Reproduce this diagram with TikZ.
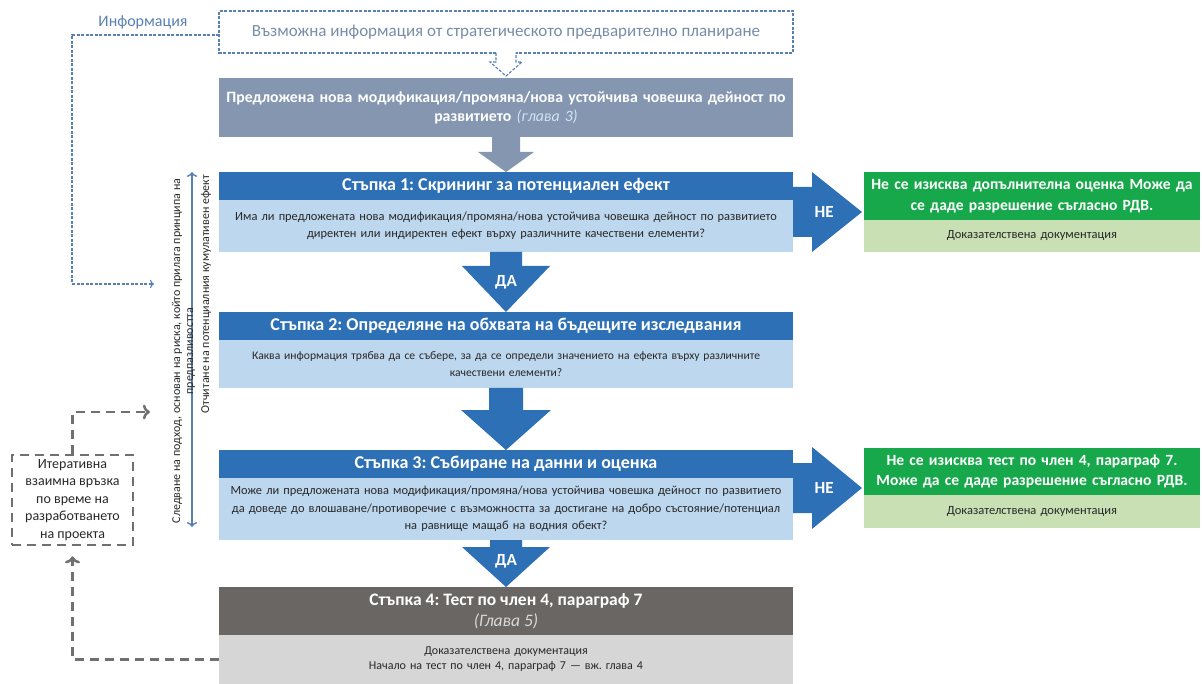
\documentclass[tikz,border=0pt]{standalone}
\usepackage{fontspec}
\setmainfont{Carlito}
\frenchspacing
\usetikzlibrary{arrows, arrows.meta, positioning, calc}

\definecolor{blueDark}{RGB}{46,112,182}
\definecolor{blueLight}{RGB}{189,215,238}
\definecolor{propGray}{RGB}{132,150,176}
\definecolor{greenDark}{RGB}{22,168,74}
\definecolor{greenLight}{RGB}{200,224,180}
\definecolor{stepGray}{RGB}{106,102,100}
\definecolor{docGray}{RGB}{214,214,214}
\definecolor{infoBlue}{RGB}{88,128,180}
\definecolor{planText}{RGB}{120,140,168}
\definecolor{dashGray}{RGB}{112,112,112}
\definecolor{textDark}{RGB}{40,40,40}

% block arrows (down / right), sizes in pt
\newcommand{\downblock}[6]{%
  \fill[#6] let \p1=(#1), \p2=(#2) in
    (\x1-#3pt,\y1) -- (\x1-#3pt,\y2+#5pt) -- (\x1-#4pt,\y2+#5pt) -- (\x1,\y2)
    -- (\x1+#4pt,\y2+#5pt) -- (\x1+#3pt,\y2+#5pt) -- (\x1+#3pt,\y1) -- cycle;}
\newcommand{\rightblock}[6]{%
  \fill[#6] let \p1=(#1), \p2=(#2) in
    (\x1,\y1+#3pt) -- (\x2-#5pt,\y1+#3pt) -- (\x2-#5pt,\y1+#4pt) -- (\x2,\y1)
    -- (\x2-#5pt,\y1-#4pt) -- (\x2-#5pt,\y1-#3pt) -- (\x1,\y1-#3pt) -- cycle;}

\tikzset{
  stephead/.style={fill=blueDark, text=white, font=\bfseries\fontsize{18}{21}\selectfont,
    minimum width=574pt, minimum height=28pt, inner sep=0pt, outer sep=0pt, align=center},
  stepbody/.style={fill=blueLight, text=textDark, font=\fontsize{12.4}{17}\selectfont,
    text width=574pt, inner xsep=0pt, inner ysep=0pt, outer sep=0pt, align=center},
  greenhead/.style={fill=greenDark, text=white, font=\bfseries\fontsize{15.6}{20.5}\selectfont,
    text width=336pt, inner xsep=0pt, inner ysep=0pt, outer sep=0pt, align=center},
  greenbody/.style={fill=greenLight, text=textDark, font=\fontsize{12.5}{14}\selectfont,
    text width=336pt, inner xsep=0pt, inner ysep=0pt, outer sep=0pt, align=center},
  arrowlbl/.style={text=white, font=\bfseries\fontsize{17}{18}\selectfont, inner sep=0pt},
  infodash/.style={draw=infoBlue, line width=1.1pt, dash pattern=on 3pt off 1.5pt},
  graydash/.style={draw=dashGray, line width=2.5pt, dash pattern=on 9pt off 6pt},
  sidetext/.style={text=textDark, font=\fontsize{12}{13}\selectfont, inner sep=0pt, align=center}
}

\begin{document}
\begin{tikzpicture}[x=1pt, y=-1pt]
  \useasboundingbox (0,0) rectangle (1202,684);

  % Информация от планирането
  \node[text=planText, font=\fontsize{17}{20}\selectfont, minimum width=574pt,
        minimum height=42pt, inner sep=0pt, outer sep=0pt] (plan) at (506,32)
        {Възможна информация от стратегическото предварително планиране};
  \draw[infodash] ([xshift=-10pt]plan.south) -| (plan.north west)
        -| (plan.south east) -- ([xshift=10pt]plan.south);
  \node[text=infoBlue, font=\fontsize{16}{18}\selectfont, inner sep=0pt] (info) at (143,22) {Информация};

  % Предложена дейност
  \node[fill=propGray, text=white, font=\bfseries\fontsize{15.8}{19}\selectfont,
        minimum width=574pt, minimum height=59pt, text width=574pt, inner xsep=0pt,
        inner ysep=0pt, outer sep=0pt, align=center] (prop) at (506,107.5)
        {Предложена нова модификация/промяна/нова устойчива човешка дейност по\\
         развитието {\mdseries\itshape\color{blueLight!70!white}(глава 3)}};
  \draw[infodash] ([xshift=-10pt]plan.south) -- ++(0,9) -- ++(-6,0) -- ([yshift=2pt]prop.north)
        -- ++(16,-14) -- ++(-6,0) -- ([xshift=10pt]plan.south);

  % Стъпки 1-4
  \node[stephead] (s1h) at (506,186) {Стъпка 1: Скрининг за потенциален ефект};
  \node[stepbody, minimum height=52pt, below=0pt of s1h] (s1b)
        {Има ли предложената нова модификация/промяна/нова устойчива човешка дейност по развитието\\
         директен или индиректен ефект върху различните качествени елементи?};
  \node[stephead] (s2h) at (506,326) {Стъпка 2: Определяне на обхвата на бъдещите изследвания};
  \node[stepbody, minimum height=48pt, font=\fontsize{11.6}{17}\selectfont, below=0pt of s2h] (s2b)
        {Каква информация трябва да се събере, за да се определи значението на ефекта върху различните\\
         качествени елементи?};
  \node[stephead] (s3h) at (506,464) {Стъпка 3: Събиране на данни и оценка};
  \node[stepbody, minimum height=62pt, font=\fontsize{12.4}{17.5}\selectfont, below=0pt of s3h] (s3b)
        {Може ли предложената нова модификация/промяна/нова устойчива човешка дейност по развитието\\
         да доведе до влошаване/противоречие с възможността за достигане на добро състояние/потенциал\\
         на равнище мащаб на водния обект?};
  \node[stephead, fill=stepGray, minimum height=48pt, font=\bfseries\fontsize{17.5}{21}\selectfont]
        (s4h) at (506,611) {Стъпка 4: Тест по член 4, параграф 7\\
        {\mdseries\itshape\color{white!85!black}(Глава 5)}};
  \node[stepbody, fill=docGray, minimum height=49pt, font=\fontsize{12}{15}\selectfont,
        below=0pt of s4h] (s4b)
        {Доказателствена документация\\Начало на тест по член 4, параграф 7 — вж. глава 4};

  % Зелени полета
  \node[greenhead, minimum height=48pt] (g1h) at (1032,196)
        {Не се изисква допълнителна оценка Може да\\се даде разрешение съгласно РДВ.};
  \node[greenbody, minimum height=32pt, below=0pt of g1h] (g1b) {Доказателствена документация};
  \node[greenhead, minimum height=47pt] (g2h) at (1032,471.5)
        {Не се изисква тест по член 4, параграф 7.\\Може да се даде разрешение съгласно РДВ.};
  \node[greenbody, minimum height=33pt, below=0pt of g2h] (g2b) {Доказателствена документация};

  % Стрелки надолу
  \downblock{prop.south}{s1h.north}{14}{28}{20}{propGray}
  \downblock{s1b.south}{s2h.north}{16}{44}{46}{blueDark}
  \downblock{s2b.south}{s3h.north}{17}{45}{40}{blueDark}
  \downblock{s3b.south}{s4h.north}{16}{44}{40}{blueDark}
  \node[arrowlbl] (da1) at ($(s1b.south)!0.5!(s2h.north)$) {ДА};
  \node[arrowlbl] (da2) at ($(s3b.south)!0.45!(s4h.north)$) {ДА};

  % Стрелки НЕ
  \coordinate (s1e) at ($(s1h.north east)!0.5!(s1b.south east)$);
  \coordinate (g1w) at ($(g1h.north west)!0.5!(g1b.south west)+(-2,0)$);
  \coordinate (g2w) at ($(g2h.north west)!0.5!(g2b.south west)+(-2,0)$);
  \coordinate (s3e) at (s3h.east |- g2w);
  \rightblock{s1e}{g1w}{25}{40}{50}{blueDark}
  \rightblock{s3e}{g2w}{25}{41}{50}{blueDark}
  \node[arrowlbl] (ne1) at ($(s1e)!0.45!(g1w)$) {НЕ};
  \node[arrowlbl] (ne2) at ($(s3e)!0.45!(g2w)$) {НЕ};

  % Връзка с информацията
  \coordinate (infoCorner) at (72,284);
  \coordinate (infoEnd) at (154,284);
  \draw[infodash, ->] ([yshift=-3pt]plan.west) -| (infoCorner) -- (infoEnd);

  % Вертикална стрелка и текстове
  \coordinate (vTop) at (192,172);
  \coordinate (vBot) at (192,527);
  \draw[<->, draw=infoBlue, line width=1.5pt] (vTop) -- (vBot);
  \node[sidetext, rotate=90] (risk) at (183.5,351)
        {Следване на подход, основан на риска, който прилага принципа на\\предпазливостта};
  \node[sidetext, rotate=90, anchor=east] (cumul) at (206,175)
        {Отчитане на потенциалния кумулативен ефект};

  % Итеративна връзка
  \node[graydash, sidetext, font=\fontsize{14}{17.5}\selectfont, minimum width=121pt,
        minimum height=90pt] (iter) at (72.5,500)
        {Итеративна\\взаимна връзка\\по време на\\разработването\\на проекта};
  \coordinate (iterTo) at (150,412);
  \draw[graydash, ->] (iter.north) |- (iterTo);
  \draw[graydash, ->, shorten >=10pt] (s4b.west) -| (iter.south);
\end{tikzpicture}
\end{document}
